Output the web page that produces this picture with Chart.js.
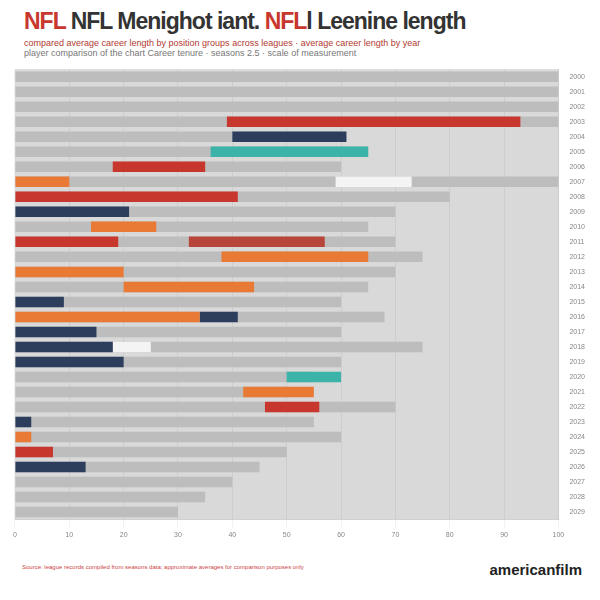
<!DOCTYPE html>
<html><head><meta charset="utf-8">
<script src="https://cdn.jsdelivr.net/npm/chart.js@4"></script>
<style>
body{margin:0;width:600px;height:600px;background:#fff;font-family:"Liberation Sans",Arial,sans-serif;position:relative;overflow:hidden}
#t{position:absolute;left:24px;top:8px;font-size:23px;font-weight:bold;color:#333;letter-spacing:-1px}
#t span{color:#c8372d}
.s{position:absolute;left:24px;font-size:9px;color:#b03a30;white-space:nowrap}
#wrap{position:absolute;left:10px;top:62px;width:578px;height:480px}
#foot{position:absolute;right:18px;bottom:22px;font-size:15px;font-weight:bold;color:#222}
#fn{position:absolute;left:22px;bottom:30px;font-size:6px;color:#c44;white-space:nowrap}
</style></head><body>
<div id="t"><span>NFL</span> NFL Menighot iant. <span>NFL</span>l Leenine length</div>
<div class="s" style="top:38px">compared average career length by position groups across leagues · average career length by year</div>
<div class="s" style="top:48px;color:#777">player comparison of the chart  Career tenure · seasons 2.5 · scale of measurement</div>
<div id="wrap"><canvas id="c" width="578" height="480"></canvas></div>
<div id="fn">Source: league records compiled from seasons data; approximate averages for comparison purposes only</div>
<div id="foot">americanfilm</div>
<script>
const rows=["2000","2001","2002","2003","2004","2005","2006","2007","2008","2009","2010","2011","2012","2013","2014","2015","2016","2017","2018","2019","2020","2021","2022","2023","2024","2025","2026","2027","2028","2029"];
const grayEnd=[100,100,100,100,60,65,60,100,80,70,65,70,75,70,65,60,68,60,75,60,55,50,70,55,60,50,45,40,35,30];
const redBars=[null,null,null,[39,93],null,null,[18,35],null,[0,41],null,null,[0,19],null,null,null,null,null,null,null,null,null,null,[46,56],null,null,[0,7],null,null,null,null];
const red2=[null,null,null,null,null,null,null,null,null,null,null,[32,57],null,null,null,null,null,null,null,null,null,null,null,null,null,null,null,null,null,null];
const orangeBars=[null,null,null,null,null,null,null,[0,10],null,null,[14,26],null,[38,65],[0,20],[20,44],null,[0,34],null,null,null,null,[42,55],null,null,[0,3],null,null,null,null,null];
const navyBars=[null,null,null,null,[40,61],null,null,null,null,[0,21],null,null,null,null,null,[0,9],[34,41],[0,15],[0,18],[0,20],null,null,null,[0,3],null,null,[0,13],null,null,null];
const tealBars=[null,null,null,null,null,[36,65],null,null,null,null,null,null,null,null,null,null,null,null,null,null,[50,60],null,null,null,null,null,null,null,null,null];
const whiteBars=[null,null,null,null,null,null,null,[59,73],null,null,null,null,null,null,null,null,null,null,[18,25],null,null,null,null,null,null,null,null,null,null,null];
const ds=(d,c,o)=>({data:d,backgroundColor:c,barPercentage:0.7,categoryPercentage:1,grouped:false,order:o||0});
new Chart(document.getElementById('c'),{type:'bar',
data:{labels:rows,datasets:[
ds(grayEnd.map(v=>[0,v]),'#bdbdbd',10),
ds(redBars,'#c8372d'),ds(red2,'#b8453a'),ds(orangeBars,'#e87a35'),
ds(navyBars,'#2c3e5c'),ds(tealBars,'#3bb3a8'),ds(whiteBars,'#f4f4f4')]},
options:{indexAxis:'y',responsive:false,animation:false,
plugins:{legend:{display:false},tooltip:{enabled:false}},
scales:{x:{min:0,max:100,grid:{color:'rgba(0,0,0,0.05)'},ticks:{font:{size:7},color:'#888'}},
y:{position:'right',grid:{display:false},ticks:{font:{size:7},color:'#888'}}}},
plugins:[{id:'bg',beforeDraw(ch){const a=ch.chartArea,x=ch.ctx;x.fillStyle='#d9d9d9';x.fillRect(a.left,a.top,a.right-a.left,a.bottom-a.top);}}]
});
</script>
</body></html>
